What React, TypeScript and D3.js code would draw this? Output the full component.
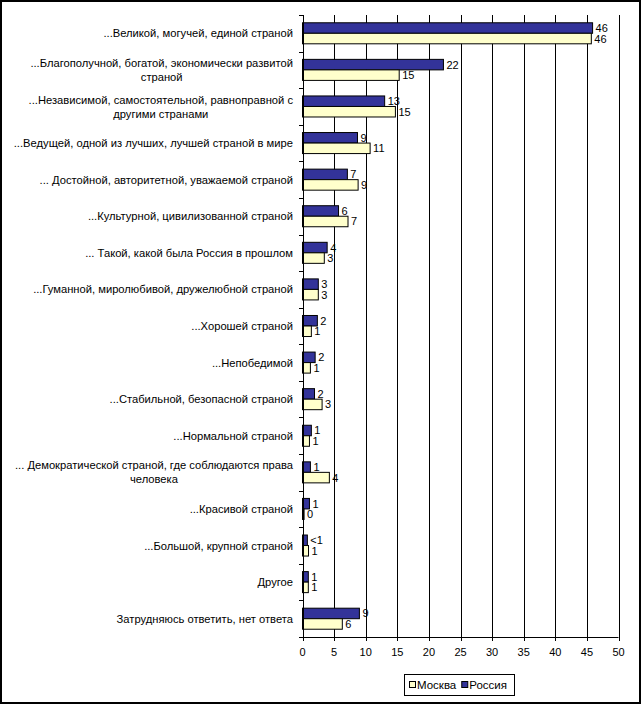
import React, { useMemo } from 'react';
import * as d3 from 'd3';

const categories = [
  '...Великой, могучей, единой страной',
  '...Благополучной, богатой, экономически развитой страной',
  '...Независимой, самостоятельной, равноправной с другими странами',
  '...Ведущей, одной из лучших, лучшей страной в мире',
  '... Достойной, авторитетной, уважаемой страной',
  '...Культурной, цивилизованной страной',
  '... Такой, какой была Россия в прошлом',
  '...Гуманной, миролюбивой, дружелюбной страной',
  '...Хорошей страной',
  '...Непобедимой',
  '...Стабильной, безопасной страной',
  '...Нормальной страной',
  '... Демократической страной, где соблюдаются права человека',
  '...Красивой страной',
  '...Большой, крупной страной',
  'Другое',
  'Затрудняюсь ответить, нет ответа',
];

const russia = [45.9, 22.3, 13.0, 8.7, 7.1, 5.7, 3.9, 2.5, 2.35, 2.0, 1.9, 1.4, 1.25, 1.1, 0.77, 0.92, 9.0];
const moscow = [45.7, 15.3, 14.7, 10.7, 8.8, 7.2, 3.45, 2.5, 1.4, 1.25, 3.1, 1.1, 4.25, 0.25, 0.95, 0.92, 6.3];
const russiaLabels = ['46', '22', '13', '9', '7', '6', '4', '3', '2', '2', '2', '1', '1', '1', '<1', '1', '9'];
const moscowLabels = ['46', '15', '15', '11', '9', '7', '3', '3', '1', '1', '3', '1', '4', '0', '1', '1', '6'];
const xTicks = [0, 5, 10, 15, 20, 25, 30, 35, 40, 45, 50];

const series = [
  { name: 'Россия', values: russia, labels: russiaLabels, color: '#333399' },
  { name: 'Москва', values: moscow, labels: moscowLabels, color: '#FFFFCC' },
];
const legendOrder = ['Москва', 'Россия'];

const FONT = '"Liberation Sans", Arial, sans-serif';
const FS = 11;
const FS_LABEL = 11.2;
const FS_LEGEND = 11.5;

const W = 641;
const H = 704;
const m = { left: 302.5, right: 618.5, top: 15, bottom: 637 };

let ctx: CanvasRenderingContext2D | null = null;
const measure = (s: string, size = FS_LABEL) => {
  if (!ctx) ctx = document.createElement('canvas').getContext('2d');
  if (!ctx) return s.length * 5.6;
  ctx.font = `${size}px ${FONT}`;
  return ctx.measureText(s).width;
};

const wrap = (s: string, maxW: number) => {
  const words = s.split(' ');
  const lines: string[] = [];
  let cur = '';
  words.forEach((w) => {
    const test = cur ? cur + ' ' + w : w;
    if (cur && measure(test) > maxW) {
      lines.push(cur);
      cur = w;
    } else cur = test;
  });
  if (cur) lines.push(cur);
  return lines;
};

export default function App() {
  const x = d3.scaleLinear().domain([0, 50]).range([m.left, m.right]);
  const y = d3.scaleBand<string>().domain(categories).range([m.top, m.bottom]);
  const y1 = d3
    .scaleBand<string>()
    .domain(series.map((s) => s.name))
    .range([0, y.bandwidth()])
    .paddingOuter(0.74);

  const wrapped = useMemo(() => categories.map((c) => wrap(c, 288)), []);
  const labelRight = 293;

  return (
    <div style={{ position: 'absolute', left: 0, top: 0 }}>
      <svg width={W} height={H} style={{ display: 'block' }} fontFamily={FONT} fontSize={FS}>
        <rect x={0} y={0} width={W} height={H} fill="#fff" />
        <rect x={1} y={1} width={W - 2} height={H - 2} fill="none" stroke="#000" strokeWidth={2} />

        {/* gridlines */}
        {xTicks.slice(1).map((t) => (
          <line key={t} x1={Math.round(x(t)) + 0.5} x2={Math.round(x(t)) + 0.5} y1={m.top} y2={m.bottom} stroke="#000" />
        ))}

        {/* bars */}
        {categories.map((c, i) => (
          <g key={c}>
            {series.map((s) => {
              const by = (y(c) ?? 0) + (y1(s.name) ?? 0);
              const bh = y1.bandwidth();
              return (
                <g key={s.name}>
                  <rect
                    x={x(0)}
                    y={by}
                    width={x(s.values[i]) - x(0)}
                    height={bh}
                    fill={s.color}
                    stroke="#000"
                    strokeWidth={1}
                  />
                  <text x={x(s.values[i]) + 3} y={by + bh / 2} dy="0.36em" fill="#000">
                    {s.labels[i]}
                  </text>
                </g>
              );
            })}
          </g>
        ))}

        {/* y axis */}
        <line x1={Math.round(x(0)) + 0.5} x2={Math.round(x(0)) + 0.5} y1={m.top} y2={m.bottom} stroke="#000" />
        {[...categories.map((c) => y(c) ?? 0), m.bottom].map((v, i) => (
          <line key={i} x1={Math.round(x(0)) - 4} x2={Math.round(x(0))} y1={Math.round(v) + 0.5} y2={Math.round(v) + 0.5} stroke="#000" />
        ))}
        <g fontSize={FS_LABEL}>
          {categories.map((c, i) => {
            const lines = wrapped[i];
            const cy = (y(c) ?? 0) + y.bandwidth() / 2;
            if (lines.length === 1) {
              return (
                <text key={c} x={labelRight} y={cy} dy="0.36em" textAnchor="end" fill="#000">
                  {c}
                </text>
              );
            }
            const maxW = Math.max(...lines.map((l) => measure(l)));
            const cx = labelRight - maxW / 2;
            const lh = 14;
            return (
              <text key={c} x={cx} textAnchor="middle" fill="#000">
                {lines.map((l, j) => (
                  <tspan key={j} x={cx} y={cy + (j - (lines.length - 1) / 2) * lh} dy="0.36em">
                    {l}
                  </tspan>
                ))}
              </text>
            );
          })}
        </g>

        {/* x axis */}
        <line x1={x(0)} x2={x(50)} y1={m.bottom + 0.5} y2={m.bottom + 0.5} stroke="#000" />
        {xTicks.map((t) => (
          <g key={t}>
            <line x1={Math.round(x(t)) + 0.5} x2={Math.round(x(t)) + 0.5} y1={m.bottom} y2={m.bottom + 4} stroke="#000" />
            <text x={x(t)} y={652} dy="0.36em" textAnchor="middle" fill="#000">
              {t}
            </text>
          </g>
        ))}

        {/* legend */}
        <rect x={404.5} y={674.5} width={110} height={21} fill="#fff" stroke="#000" />
        <g fontSize={FS_LEGEND}>
          {(() => {
            let lx = 409;
            return legendOrder.map((name) => {
              const s = series.find((d) => d.name === name)!;
              const g = (
                <g key={name}>
                  <rect x={lx + 0.5} y={681.5} width={6} height={6} fill={s.color} stroke="#000" />
                  <text x={lx + 8} y={685} dy="0.36em" fill="#000">
                    {name}
                  </text>
                </g>
              );
              lx += 8 + measure(name, FS_LEGEND) + 5;
              return g;
            });
          })()}
        </g>
      </svg>
    </div>
  );
}
